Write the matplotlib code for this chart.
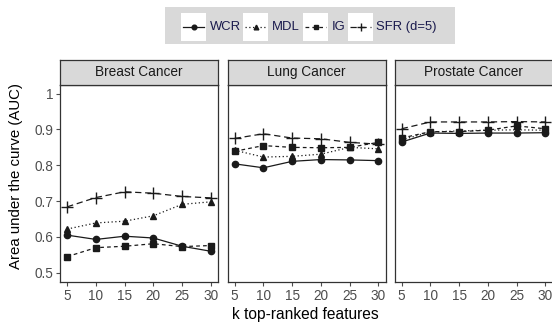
import matplotlib
matplotlib.use("Agg")
import matplotlib.pyplot as plt
from matplotlib.patches import Rectangle
from matplotlib.lines import Line2D

plt.rcParams['font.family'] = ['Liberation Sans', 'DejaVu Sans']

k = [5, 10, 15, 20, 25, 30]
panels = ["Breast Cancer", "Lung Cancer", "Prostate Cancer"]
methods = ["WCR", "MDL", "IG", "SFR (d=5)"]

# AUC per panel, per method
breast = {
    "WCR": [0.605, 0.593, 0.602, 0.597, 0.574, 0.560],
    "MDL": [0.622, 0.639, 0.644, 0.659, 0.691, 0.698],
    "IG": [0.545, 0.570, 0.574, 0.581, 0.573, 0.576],
    "SFR (d=5)": [0.684, 0.710, 0.726, 0.722, 0.713, 0.709],
}
lung = {
    "WCR": [0.804, 0.793, 0.811, 0.816, 0.815, 0.813],
    "MDL": [0.842, 0.823, 0.825, 0.831, 0.850, 0.846],
    "IG": [0.839, 0.855, 0.850, 0.849, 0.850, 0.864],
    "SFR (d=5)": [0.875, 0.888, 0.876, 0.874, 0.864, 0.859],
}
prostate = {
    "WCR": [0.865, 0.890, 0.889, 0.890, 0.890, 0.891],
    "MDL": [0.871, 0.893, 0.896, 0.898, 0.899, 0.898],
    "IG": [0.876, 0.894, 0.894, 0.898, 0.910, 0.902],
    "SFR (d=5)": [0.902, 0.921, 0.921, 0.921, 0.922, 0.921],
}
data = [breast, lung, prostate]

styles = {
    "WCR": dict(linestyle='-', marker='o', markersize=4.5),
    "MDL": dict(linestyle=(0, (1, 2)), marker='^', markersize=4.5),
    "IG": dict(linestyle=(0, (3, 2.5)), marker='s', markersize=4.2),
    "SFR (d=5)": dict(linestyle=(0, (5, 3)), marker='+', markersize=8, markeredgewidth=1.0),
}
lc = '#1a1a1a'
W, H = 552, 324

fig = plt.figure(figsize=(W / 100, H / 100), dpi=100)

lefts = [60, 227.5, 394.5]
pw = 158
ptop, pbot = 84.7, 281.7
strip_h = 24.7

for i, (name, d) in enumerate(zip(panels, data)):
    ax = fig.add_axes([lefts[i] / W, 1 - pbot / H, pw / W, (pbot - ptop) / H])
    for m in methods:
        ax.plot(k, d[m], color=lc, linewidth=0.9, **styles[m])
    ax.set_xlim(3.75, 31.25)
    ax.set_ylim(0.475, 1.025)
    ax.set_xticks(k)
    ax.set_yticks([0.5, 0.6, 0.7, 0.8, 0.9, 1.0])
    if i == 0:
        ax.set_yticklabels(['0.5', '0.6', '0.7', '0.8', '0.9', '1'])
    else:
        ax.tick_params(axis='y', left=False, labelleft=False)
    ax.tick_params(colors='#4d4d4d', labelsize=9.8, length=3, width=0.8, pad=2)
    for s in ax.spines.values():
        s.set_color('#333333')
        s.set_linewidth(0.9)
    # facet strip
    sax = fig.add_axes([lefts[i] / W, 1 - ptop / H, pw / W, strip_h / H])
    sax.set_facecolor('#d9d9d9')
    sax.set_xticks([])
    sax.set_yticks([])
    for s in sax.spines.values():
        s.set_color('#333333')
        s.set_linewidth(0.9)
    sax.text(0.5, 0.5, name, ha='center', va='center', fontsize=9.8, color='#1a1a1a')

fig.text(16 / W, 1 - 176 / H, "Area under the curve (AUC)", rotation=90,
         ha='center', va='center', fontsize=10.8)
fig.text(305 / W, 1 - 314 / H, "k top-ranked features", ha='center', va='center', fontsize=11.2)

# legend box
fig.patches.append(Rectangle((165 / W, 1 - 43.5 / H), 290 / W, 36.5 / H,
                             transform=fig.transFigure, facecolor='#d9d9d9',
                             edgecolor='none', zorder=0))
key_x = [181, 243, 303, 348]
key_w = 25
ky = 27
for m, kx in zip(methods, key_x):
    fig.patches.append(Rectangle((kx / W, 1 - 40.7 / H), key_w / W, 27.4 / H,
                                 transform=fig.transFigure, facecolor='white',
                                 edgecolor='none', zorder=1))
    st = dict(styles[m])
    ms = st.pop('markersize') * 0.75
    mk = st.pop('marker')
    mew = st.pop('markeredgewidth', 1.0)
    fig.lines.append(Line2D([(kx + 2) / W, (kx + key_w - 2) / W], [1 - ky / H] * 2,
                            transform=fig.transFigure, color=lc, linewidth=0.9,
                            zorder=2, **st))
    fig.lines.append(Line2D([(kx + key_w / 2) / W], [1 - ky / H], transform=fig.transFigure,
                            color=lc, linestyle='none', marker=mk, markersize=ms,
                            markeredgewidth=mew, zorder=3))
    fig.text((kx + key_w + 3.5) / W, 1 - ky / H, m, ha='left', va='center',
             fontsize=9.4, color='#1a1a4d')

fig.savefig('out.png', dpi=100)
